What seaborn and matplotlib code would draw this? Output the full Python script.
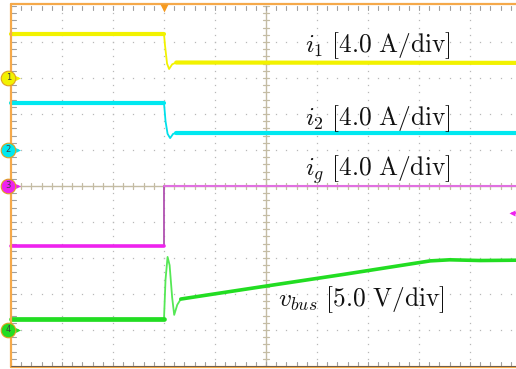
import numpy as np
import pandas as pd
import matplotlib
matplotlib.use("Agg")
import matplotlib.pyplot as plt
import seaborn as sns

sns.set_style("white")
plt.rcParams["mathtext.fontset"] = "cm"
plt.rcParams["font.family"] = ["DejaVu Serif"]

# Time axis in screen divisions (trigger at -2 div), amplitudes in vertical divisions
t_i1 = [-5.0, -2.0, -1.98, -1.94, -1.90, -1.84, -1.76, 5.0]
y_i1 = [4.22, 4.22, 3.90, 3.40, 3.25, 3.38, 3.43, 3.42]

t_i2 = [-5.0, -2.0, -1.97, -1.93, -1.88, -1.82, -1.76, 5.0]
y_i2 = [2.31, 2.31, 1.80, 1.45, 1.33, 1.45, 1.47, 1.47]

t_ig = [-5.0, -2.0, -2.0, 5.0]
y_ig = [-1.67, -1.67, 0.0, 0.0]

t_vbus = [-5.0, -2.0, -1.97, -1.93, -1.89, -1.84, -1.80, -1.74, -1.67,
          0.0, 1.5, 3.22, 3.6, 4.2, 5.0]
y_vbus = [-3.69, -3.69, -2.60, -1.97, -2.20, -3.10, -3.58, -3.30, -3.14,
          -2.78, -2.46, -2.08, -2.05, -2.07, -2.06]

labels = [r"$i_1\ [4.0\ \mathrm{A/div}]$", r"$i_2\ [4.0\ \mathrm{A/div}]$",
          r"$i_g\ [4.0\ \mathrm{A/div}]$", r"$v_{bus}\ [5.0\ \mathrm{V/div}]$"]
label_pos = [(0.765, 3.72), (0.765, 1.70), (0.765, 0.29), (0.235, -3.33)]

channel_ids = ["1", "2", "3", "4"]
channel_gnd = [3.0, 1.0, 0.0, -4.0]

names = ["i1", "i2", "ig", "vbus"]
colors = ["#f2f200", "#00e8f0", "#ee22ee", "#22dd22"]
transient_c = ["#f2f200", "#00e0ea", "#b050b0", "#55e855"]
after_c = ["#f2f200", "#00e8f0", "#e070e0", "#22dd22"]
before_w = [3.0, 3.0, 2.6, 3.4]
after_w = [3.0, 3.0, 1.5, 2.6]
settle_t = [-1.76, -1.76, -2.0, -1.67]

frames = []
for name, t, y in zip(names, [t_i1, t_i2, t_ig, t_vbus], [y_i1, y_i2, y_ig, y_vbus]):
    frames.append(pd.DataFrame({"t": t, "y": y, "ch": name}))
data = pd.concat(frames, ignore_index=True)

fig = plt.figure(figsize=(5.16, 3.69), dpi=100)
ax = fig.add_axes([0, 0, 1, 1])
ax.set_xlim(-5 - 11 / 51, -5 - 11 / 51 + 516 / 51)
ax.set_ylim(186 / 36 - 369 / 36, 186 / 36)
ax.axis("off")

# Graticule: dotted division lines
grid_c = "#b8b8b8"
minor = np.arange(-25, 26) / 5
for d in range(-4, 6):
    if d == 0:
        continue
    ax.plot(np.full_like(minor, d), minor, ls="none", marker="s", ms=0.9,
            mec="none", mfc=grid_c, zorder=1)
for v in range(-4, 5):
    if v == 0:
        continue
    ax.plot(minor, np.full_like(minor, v), ls="none", marker="s", ms=0.9,
            mec="none", mfc=grid_c, zorder=1)

# Centre cross with minor ticks
axis_c = "#c4bca4"
ax.plot([-5, 5], [0, 0], color=axis_c, lw=1.0, zorder=2)
ax.plot([0, 0], [-5, 5], color=axis_c, lw=1.0, zorder=2)
for m in minor:
    ax.plot([m, m], [-0.07, 0.07], color=axis_c, lw=0.9, zorder=2)
    ax.plot([-0.05, 0.05], [m, m], color=axis_c, lw=0.9, zorder=2)

# Edge ticks
tick_c = "#a0a0a0"
for m in minor:
    ax.plot([-5, -4.9], [m, m], color=tick_c, lw=0.8, zorder=2)
    ax.plot([m, m], [5.0, 4.88], color=tick_c, lw=0.8, zorder=2)
    ax.plot([m, m], [-5.0, -4.88], color=tick_c, lw=0.8, zorder=2)

# Traces: thin line through the switching transient, heavier steady-state segments
for i, name in enumerate(names):
    sub = data[data["ch"] == name]
    sns.lineplot(data=sub, x="t", y="y", color=transient_c[i], lw=1.3,
                 sort=False, estimator=None, ax=ax, zorder=4)
    before = sub.iloc[:2]
    after = sub[sub["t"] >= settle_t[i]]
    if name == "ig":
        after = sub.iloc[2:]
    sns.lineplot(data=before, x="t", y="y", color=colors[i], lw=before_w[i],
                 sort=False, estimator=None, ax=ax, zorder=4)
    sns.lineplot(data=after, x="t", y="y", color=after_c[i], lw=after_w[i],
                 sort=False, estimator=None, ax=ax, zorder=4)

# Frame
frame_c = "#f5a94a"
ax.plot([-5, -5], [-5.03, 5.06], color=frame_c, lw=1.6, zorder=5)
ax.plot([-5, 6], [5.06, 5.06], color=frame_c, lw=1.6, zorder=5)
ax.plot([-5, 6], [-5.03, -5.03], color=frame_c, lw=1.6, zorder=5)
ax.plot([-5, 6], [-4.99, -4.99], color="#505050", lw=0.6, zorder=5)

# Trigger position and level markers
ax.plot([-2.0], [4.95], marker="v", ms=6, color="#f59a20", mec="none", zorder=6)
ax.plot([4.83], [-0.75], marker="<", ms=4, color="#ee22ee", mec="none", zorder=6)
ax.plot([4.83, 4.9], [-0.75, -0.75], color="#ee22ee", lw=1.2, zorder=6)

# Channel ground markers
for cid, g, c in zip(channel_ids, channel_gnd, colors):
    ax.plot([-4.96, -4.86], [g, g], color=c, lw=1.2, zorder=6)
    ax.plot([-4.86], [g], marker=">", ms=3.5, color=c, mec="none", zorder=6)
    ax.plot([-5.05], [g], marker="o", ms=10.5, mfc=c, mec="#e0a020", mew=0.8, zorder=7)
    ax.text(-5.05, g, cid, fontsize=6, ha="center", va="center",
            color="#404040", family="DejaVu Sans", zorder=8)

# Channel labels
for txt, (x, y) in zip(labels, label_pos):
    ax.text(x, y, txt, fontsize=18.3, ha="left", va="baseline", color="#111111",
            zorder=8)

fig.savefig("out.png", dpi=100)
